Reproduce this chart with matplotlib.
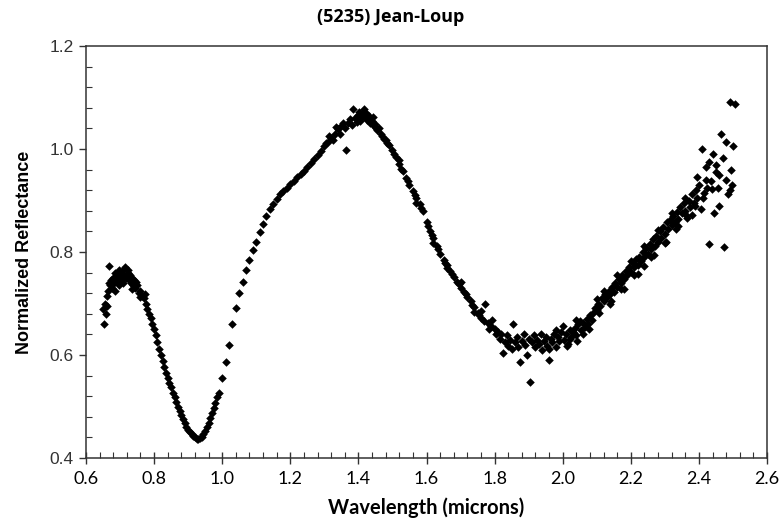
import numpy as np
import matplotlib.pyplot as plt
from matplotlib.ticker import MultipleLocator, FormatStrFormatter

# visible band (0.65 - 0.99 microns)
wl_vis = [0.650, 0.653, 0.656, 0.659, 0.662, 0.665, 0.668, 0.671, 0.674, 0.677,
          0.680, 0.683, 0.686, 0.689, 0.692, 0.695, 0.698, 0.701, 0.704, 0.707,
          0.710, 0.713, 0.716, 0.719, 0.722, 0.725, 0.728, 0.731, 0.734, 0.737,
          0.740, 0.745, 0.750, 0.755, 0.760, 0.765, 0.770, 0.775, 0.780, 0.785,
          0.790, 0.795, 0.800, 0.805, 0.810, 0.815, 0.820, 0.825, 0.830, 0.835,
          0.840, 0.845, 0.850, 0.855, 0.860, 0.865, 0.870, 0.875, 0.880, 0.885,
          0.890, 0.895, 0.900, 0.905, 0.910, 0.915, 0.920, 0.925, 0.930, 0.935,
          0.940, 0.945, 0.950, 0.955, 0.960, 0.965, 0.970, 0.975, 0.980, 0.985,
          0.662, 0.668, 0.684, 0.696, 0.709, 0.724, 0.736, 0.748, 0.758, 0.772]
refl_vis = [0.690, 0.660, 0.700, 0.680, 0.715, 0.725, 0.773, 0.735, 0.745, 0.730,
            0.750, 0.740, 0.760, 0.745, 0.755, 0.740, 0.765, 0.750, 0.760, 0.745,
            0.765, 0.755, 0.770, 0.750, 0.760, 0.745, 0.755, 0.740, 0.750, 0.735,
            0.745, 0.730, 0.735, 0.720, 0.725, 0.715, 0.710, 0.700, 0.690, 0.680,
            0.672, 0.660, 0.650, 0.638, 0.625, 0.612, 0.600, 0.588, 0.577, 0.566,
            0.556, 0.546, 0.537, 0.527, 0.518, 0.509, 0.500, 0.492, 0.484, 0.476,
            0.468, 0.461, 0.455, 0.450, 0.446, 0.442, 0.440, 0.437, 0.436, 0.438,
            0.441, 0.446, 0.452, 0.460, 0.468, 0.477, 0.487, 0.497, 0.507, 0.518,
            0.695, 0.740, 0.725, 0.735, 0.740, 0.765, 0.728, 0.742, 0.712, 0.718]

# 1-micron band shoulder and 1.4 peak
wl_peak = [0.990, 1.000, 1.010, 1.020, 1.030, 1.040, 1.050, 1.060, 1.070, 1.080,
           1.090, 1.100, 1.110, 1.120, 1.130, 1.140, 1.150, 1.160, 1.170, 1.180,
           1.190, 1.200, 1.210, 1.220, 1.230, 1.240, 1.250, 1.260, 1.270, 1.280,
           1.290, 1.300, 1.305, 1.310, 1.315, 1.320, 1.325, 1.330, 1.335, 1.340,
           1.345, 1.350, 1.355, 1.360, 1.365, 1.370, 1.375, 1.380, 1.385, 1.390,
           1.395, 1.400, 1.402, 1.405, 1.410, 1.412, 1.415, 1.420, 1.422, 1.425,
           1.430, 1.432, 1.435, 1.440, 1.442, 1.445, 1.450, 1.452, 1.455, 1.460,
           1.465, 1.470, 1.475, 1.480, 1.485, 1.490, 1.500, 1.505, 1.510, 1.520,
           1.525, 1.530, 1.540, 1.545, 1.550, 1.560, 1.565, 1.570, 1.580, 1.585,
           1.590, 1.600, 1.605, 1.610, 1.615, 1.620, 1.630, 1.635, 1.640, 1.650,
           1.655, 1.660, 1.670, 1.675, 1.680, 1.690, 1.695, 1.700, 1.710, 1.715,
           1.720, 1.730, 1.735, 1.740, 1.750, 1.755, 1.760, 1.770, 1.772, 1.780,
           1.785, 1.790, 1.520, 1.570, 1.620, 1.660, 1.700, 1.740, 1.760, 1.792]
refl_peak = [0.527, 0.555, 0.587, 0.620, 0.660, 0.692, 0.720, 0.742, 0.766, 0.785,
             0.804, 0.820, 0.838, 0.854, 0.870, 0.884, 0.894, 0.903, 0.912, 0.918,
             0.925, 0.932, 0.938, 0.945, 0.952, 0.958, 0.965, 0.972, 0.980, 0.988,
             0.996, 1.005, 1.012, 1.013, 1.025, 1.022, 1.018, 1.030, 1.042, 1.038,
             1.030, 1.045, 1.050, 1.040, 0.999, 1.050, 1.058, 1.047, 1.078, 1.060,
             1.052, 1.066, 1.072, 1.055, 1.070, 1.062, 1.077, 1.062, 1.070, 1.056,
             1.065, 1.058, 1.050, 1.055, 1.062, 1.045, 1.048, 1.040, 1.036, 1.040,
             1.030, 1.025, 1.020, 1.018, 1.012, 1.008, 0.998, 0.990, 0.985, 0.970,
             0.962, 0.957, 0.944, 0.938, 0.930, 0.918, 0.910, 0.905, 0.893, 0.886,
             0.879, 0.858, 0.850, 0.840, 0.833, 0.827, 0.812, 0.806, 0.796, 0.785,
             0.778, 0.775, 0.763, 0.757, 0.752, 0.741, 0.737, 0.731, 0.722, 0.718,
             0.712, 0.705, 0.698, 0.693, 0.682, 0.678, 0.672, 0.667, 0.700, 0.662,
             0.650, 0.656, 0.978, 0.895, 0.818, 0.768, 0.742, 0.684, 0.685, 0.668]

# 2-micron band
wl_ir = [1.800, 1.805, 1.810, 1.815, 1.820, 1.825, 1.830, 1.835, 1.840, 1.845,
         1.850, 1.855, 1.860, 1.865, 1.870, 1.875, 1.880, 1.885, 1.890, 1.895,
         1.900, 1.905, 1.910, 1.915, 1.920, 1.925, 1.930, 1.935, 1.940, 1.945,
         1.950, 1.955, 1.960, 1.965, 1.970, 1.975, 1.980, 1.985, 1.990, 1.995,
         2.000, 2.005, 2.010, 2.015, 2.020, 2.025, 2.030, 2.035, 2.040, 2.045,
         2.050, 2.055, 2.060, 2.065, 2.070, 2.075, 2.080, 2.085, 2.090, 2.095,
         2.100, 2.105, 2.110, 2.115, 2.120, 2.125, 2.130, 2.135, 2.140, 2.145,
         2.150, 2.155, 2.160, 2.165, 2.170, 2.175, 2.180, 2.185, 2.190, 2.195,
         2.200, 2.205, 2.210, 2.215, 2.220, 2.225, 2.230, 2.235, 2.240, 2.245,
         2.250, 2.255, 2.260, 2.265, 2.270, 2.275, 2.280, 2.285, 2.290, 2.295,
         2.300, 2.305, 2.310, 2.315, 2.320, 2.325, 2.330, 2.335, 2.340, 2.345,
         2.350, 2.355, 2.360, 2.365, 2.370, 2.375, 2.380, 2.385, 2.390, 2.395,
         2.395, 2.400, 2.405, 2.410, 2.415, 2.420, 2.420, 2.425, 2.430, 2.430,
         2.435, 2.440, 2.445, 2.450, 2.450, 2.455, 2.460, 2.460, 2.465, 2.470,
         2.475, 2.480, 2.480, 2.485, 2.490, 2.490, 2.495, 2.498, 2.500, 2.505,
         2.012, 2.042, 2.078, 2.108, 2.142, 2.172, 2.208, 2.238, 2.268, 2.302,
         2.332, 2.362, 2.388, 2.412, 2.438,
         1.960, 1.980, 2.020, 2.040, 2.060, 2.100, 2.120, 2.140, 2.160, 2.180,
         2.200, 2.220, 2.240, 2.260, 2.280, 2.300, 2.320, 2.340, 2.360, 2.380]
refl_ir = [0.650, 0.640, 0.645, 0.632, 0.640, 0.603, 0.625, 0.638, 0.618, 0.630,
           0.612, 0.661, 0.625, 0.635, 0.615, 0.587, 0.628, 0.640, 0.620, 0.600,
           0.632, 0.547, 0.625, 0.638, 0.615, 0.630, 0.622, 0.640, 0.610, 0.628,
           0.635, 0.618, 0.590, 0.632, 0.625, 0.640, 0.615, 0.635, 0.628, 0.645,
           0.657, 0.630, 0.640, 0.622, 0.648, 0.635, 0.645, 0.652, 0.638, 0.660,
           0.667, 0.648, 0.663, 0.655, 0.670, 0.660, 0.678, 0.668, 0.682, 0.692,
           0.688, 0.700, 0.695, 0.711, 0.705, 0.718, 0.712, 0.725, 0.718, 0.733,
           0.722, 0.740, 0.732, 0.748, 0.740, 0.755, 0.748, 0.763, 0.756, 0.770,
           0.762, 0.778, 0.770, 0.786, 0.775, 0.790, 0.783, 0.800, 0.790, 0.808,
           0.797, 0.815, 0.805, 0.825, 0.812, 0.832, 0.820, 0.840, 0.828, 0.848,
           0.835, 0.858, 0.845, 0.862, 0.852, 0.870, 0.858, 0.878, 0.865, 0.888,
           0.875, 0.895, 0.880, 0.866, 0.900, 0.888, 0.912, 0.895, 0.920, 0.905,
           0.945, 0.930, 0.883, 1.000, 0.915, 0.940, 0.965, 0.925, 0.815, 0.975,
           0.937, 0.990, 0.876, 0.955, 0.968, 0.924, 0.889, 0.950, 1.030, 0.982,
           0.810, 1.014, 0.940, 0.912, 1.092, 0.920, 0.960, 0.931, 1.005, 1.088,
           0.618, 0.628, 0.650, 0.682, 0.705, 0.728, 0.755, 0.772, 0.795, 0.820,
           0.845, 0.872, 0.890, 0.905, 0.922,
           0.612, 0.648, 0.632, 0.668, 0.640, 0.708, 0.725, 0.700, 0.755, 0.728,
           0.782, 0.758, 0.812, 0.790, 0.842, 0.818, 0.875, 0.850, 0.905, 0.872]

wavelength = wl_vis + wl_peak + wl_ir
reflectance = refl_vis + refl_peak + refl_ir

fig = plt.figure(figsize=(7.83, 5.27), dpi=100)
ax = fig.add_axes([0.1098, 0.1309, 0.8698, 0.7818])

ax.scatter(wavelength, reflectance, marker='D', s=19, color='black', linewidths=0, zorder=3)

ax.set_xlim(0.6, 2.6)
ax.set_ylim(0.4, 1.2)
ax.xaxis.set_major_locator(MultipleLocator(0.2))
ax.xaxis.set_minor_locator(MultipleLocator(0.04))
ax.yaxis.set_major_locator(MultipleLocator(0.2))
ax.yaxis.set_minor_locator(MultipleLocator(0.04))
ax.xaxis.set_major_formatter(FormatStrFormatter('%.1f'))
ax.yaxis.set_major_formatter(FormatStrFormatter('%.1f'))

for s in ax.spines.values():
    s.set_color('#333333')
    s.set_linewidth(1.1)

ax.tick_params(axis='x', which='major', direction='inout', length=8, width=1, color='#333333',
               labelsize=13, pad=5)
ax.tick_params(axis='x', which='minor', direction='in', length=4, width=0.8, color='#333333')
ax.tick_params(axis='y', which='major', direction='out', length=5, width=1, color='#333333',
               labelsize=12.5, pad=4, labelcolor='#333333')
ax.tick_params(axis='y', which='minor', direction='in', length=4, width=0.8, color='#333333')
for lab in ax.get_xticklabels():
    lab.set_family('Lato')
for lab in ax.get_yticklabels():
    lab.set_family('Liberation Sans')

ax.set_xlabel('Wavelength (microns)', fontsize=14.5, fontweight='bold', family='Lato', labelpad=8)
ax.set_ylabel('Normalized Reflectance', fontsize=13, fontweight='bold', family='Liberation Sans',
              labelpad=12)
fig.text(0.4994, 0.968, '(5235) Jean-Loup', fontsize=13, fontweight='bold', family='Open Sans',
         ha='center', va='center')

fig.savefig('out.png', dpi=100)
